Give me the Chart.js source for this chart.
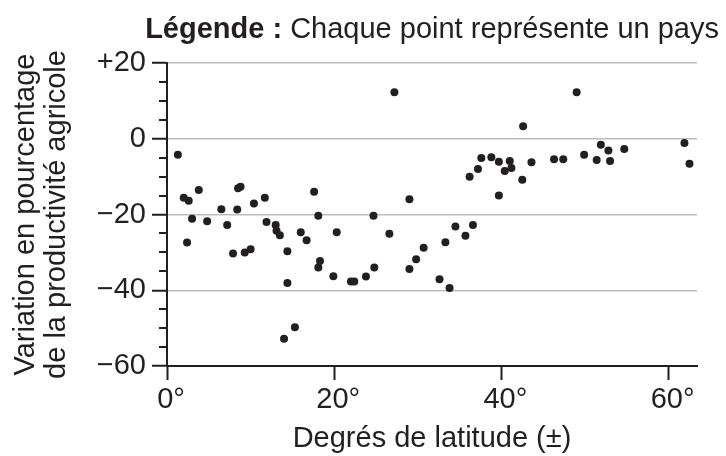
<!DOCTYPE html>
<html lang="fr">
<head>
<meta charset="utf-8">
<title>Productivité agricole et latitude</title>
<script src="https://cdn.jsdelivr.net/npm/chart.js@4/dist/chart.umd.min.js"></script>
<style>
  html, body { margin: 0; padding: 0; background: #fff; }
  canvas { display: block; }
</style>
</head>
<body>
<canvas id="graphique" width="726" height="456"></canvas>
<script>
// Données : un point par pays
const latitude = [1.3, 2.0, 2.6, 2.4, 3.0, 3.8, 4.8, 6.5, 7.2, 7.9, 8.4, 8.5, 8.8, 9.3, 10.0,
  10.4, 11.7, 11.9, 13.0, 13.1, 13.5, 14.0, 14.4, 14.4, 15.3, 16.0, 16.7, 17.6, 18.1, 18.3,
  18.1, 19.9, 20.3, 22.0, 22.4, 23.8, 24.7, 24.8, 26.6, 27.2, 29.0, 29.0, 29.8, 30.7, 32.6,
  33.3, 33.8, 34.5, 35.7, 36.2, 36.6, 37.2, 37.6, 38.8, 39.7, 39.7, 40.4, 41.0, 41.2, 42.5,
  42.6, 43.6, 46.3, 47.4, 49.0, 49.9, 51.4, 51.9, 52.8, 53.0, 54.7, 61.9, 62.5];
const variation = [-4.2, -15.6, -16.4, -27.4, -21.1, -13.5, -21.8, -18.6, -22.8, -30.3, -18.7, -13.1, -12.7, -30.0, -29.2,
  -17.1, -15.6, -22.0, -22.8, -24.3, -25.5, -52.8, -29.7, -38.1, -49.8, -24.7, -26.8, -14.0, -20.3, -32.3,
  -34.0, -36.3, -24.7, -37.7, -37.7, -36.4, -20.3, -34.0, -25.1, 12.3, -16.0, -34.4, -31.8, -28.8, -37.1,
  -27.3, -39.4, -23.2, -25.6, -10.0, -22.8, -8.0, -5.1, -4.9, -6.1, -15.0, -8.5, -5.9, -7.7, -10.8,
  3.3, -6.2, -5.4, -5.4, 12.3, -4.2, -5.6, -1.6, -3.1, -5.9, -2.7, -1.1, -6.6];

const xTicks = [0, 20, 40, 60];
const xTickLabels = ['0°', '20°', '40°', '60°'];
const yTicks = [-60, -40, -20, 0, 20];
const yTickLabels = ['−60', '−40', '−20', '0', '+20'];
const legendeGras = 'Légende :';
const legendeTexte = ' Chaque point représente un pays';

const police = "'Liberation Sans', Arial, sans-serif";
const taille = 29;
const noir = '#231f20';
const gris = '#bdbdbd';

// Petits traits toutes les 5 unités sur l'axe vertical
const graduationsMineures = {
    id: 'graduationsMineures',
    afterDraw(chart) {
        const y = chart.scales.y;
        const ctx = chart.ctx;
        ctx.save();
        ctx.strokeStyle = noir;
        ctx.lineWidth = 2;
        for (let v = y.min; v <= y.max; v += 5) {
            if (v % 20 === 0) continue;
            const py = Math.round(y.getPixelForValue(v));
            ctx.beginPath();
            ctx.moveTo(y.right - 8, py);
            ctx.lineTo(y.right, py);
            ctx.stroke();
        }
        ctx.restore();
    }
};

// Légende en haut à droite, "Légende :" en gras
const legende = {
    id: 'legende',
    afterDraw(chart) {
        const ctx = chart.ctx;
        ctx.save();
        ctx.fillStyle = noir;
        ctx.textAlign = 'right';
        ctx.textBaseline = 'alphabetic';
        ctx.font = taille + 'px ' + police;
        const largeur = ctx.measureText(legendeTexte).width;
        ctx.fillText(legendeTexte, 719, 38);
        ctx.font = 'bold ' + taille + 'px ' + police;
        ctx.fillText(legendeGras, 719 - largeur, 38);
        ctx.restore();
    }
};

const ctx = document.getElementById('graphique').getContext('2d');
const graphique = new Chart(ctx, {
    type: 'scatter',
    data: {
        datasets: [{
            data: latitude.map((x, i) => ({ x: x, y: variation[i] })),
            pointRadius: 4,
            pointBackgroundColor: noir,
            pointBorderWidth: 0,
            pointHoverRadius: 4
        }]
    },
    options: {
        responsive: false,
        animation: false,
        events: [],
        layout: { padding: { top: 63, right: 29, left: 0, bottom: 0 } },
        plugins: {
            legend: { display: false },
            tooltip: { enabled: false }
        },
        scales: {
            x: {
                type: 'linear',
                min: 0,
                max: 63.4,
                afterBuildTicks: (s) => { s.ticks = xTicks.map(v => ({ value: v })); },
                afterFit: (s) => { s.height = 90; },
                ticks: {
                    callback: (v, i) => ' ' + xTickLabels[i],
                    font: { family: police, size: taille },
                    color: noir,
                    padding: 3,
                    maxRotation: 0,
                    autoSkip: false
                },
                grid: {
                    drawOnChartArea: false,
                    tickLength: 14,
                    tickWidth: 2,
                    tickColor: noir
                },
                border: { color: noir, width: 2 },
                title: {
                    display: true,
                    text: 'Degrés de latitude (±)',
                    color: noir,
                    font: { family: police, size: taille },
                    padding: { top: 0, bottom: 0 }
                }
            },
            y: {
                min: -60,
                max: 20,
                afterBuildTicks: (s) => { s.ticks = yTicks.map(v => ({ value: v })); },
                afterFit: (s) => { s.width = 167; },
                ticks: {
                    callback: (v, i) => yTickLabels[i],
                    font: { family: police, size: taille },
                    color: noir,
                    padding: 6
                },
                grid: {
                    color: (c) => (c.tick && c.tick.value === -60) ? 'rgba(0,0,0,0)' : gris,
                    lineWidth: 1.5,
                    tickLength: 15,
                    tickWidth: 2,
                    tickColor: noir
                },
                border: { color: noir, width: 2 },
                title: {
                    display: true,
                    text: ['Variation en pourcentage', 'de la productivité agricole'],
                    color: noir,
                    font: { family: police, size: taille, lineHeight: 1.08 },
                    padding: { top: 10, bottom: 0 }
                }
            }
        }
    },
    plugins: [graduationsMineures, legende]
});
</script>
</body>
</html>
